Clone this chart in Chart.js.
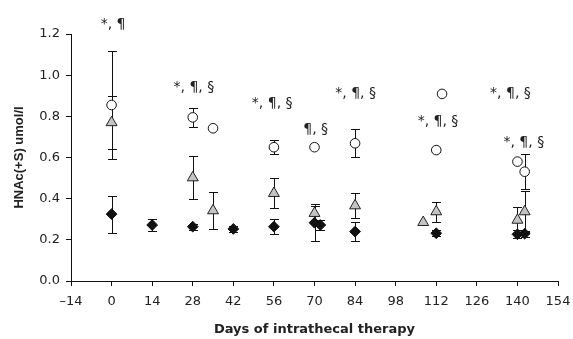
<!DOCTYPE html>
<html>
<head>
<meta charset="utf-8">
<script src="https://cdn.jsdelivr.net/npm/chart.js@4.4.1/dist/chart.umd.min.js"></script>
<style>
  html, body { margin: 0; padding: 0; background: #fff; }
  #wrap { width: 573px; height: 339px; position: relative; }
</style>
</head>
<body>
<div id="wrap"><canvas id="c"></canvas></div>
<script>
// axis ticks
const xTickValues = [-14, 0, 14, 28, 42, 56, 70, 84, 98, 112, 126, 140, 154];
const yTickValues = [0, 0.2, 0.4, 0.6, 0.8, 1.0, 1.2];

// open circles
const circleDays = [0, 28, 35, 56, 70, 84, 112, 114, 140, 142.5];
const circleVals = [0.855, 0.795, 0.742, 0.65, 0.65, 0.669, 0.636, 0.909, 0.58, 0.531];
const circleErr  = [0.26, 0.045, 0, 0.035, 0, 0.068, 0.008, 0, 0, 0.086];

// grey triangles
const triDays = [0, 28, 35, 56, 70, 84, 107.5, 112, 140, 142.5];
const triVals = [0.77, 0.502, 0.342, 0.426, 0.329, 0.366, 0.285, 0.337, 0.296, 0.337];
const triErr  = [0.13, 0.105, 0.09, 0.073, 0.035, 0.06, 0, 0.048, 0.065, 0.10];

// black diamonds
const diaDays = [0, 14, 28, 42, 56, 70, 72, 84, 112, 140, 142.5];
const diaVals = [0.325, 0.272, 0.264, 0.253, 0.264, 0.283, 0.272, 0.24, 0.232, 0.227, 0.23];
const diaErr  = [0.09, 0.03, 0.015, 0.015, 0.037, 0.09, 0.025, 0.047, 0.015, 0.02, 0.015];

// significance notes
const noteTexts = ['*, ¶', '*, ¶, §', '*, ¶, §', '¶, §', '*, ¶, §', '*, ¶, §', '*, ¶, §', '*, ¶, §'];
const noteDays  = [0.5, 28.4, 55.4, 70.4, 84.2, 112.6, 137.6, 142.2];
const noteVals  = [1.249, 0.94, 0.863, 0.739, 0.912, 0.778, 0.912, 0.673];

const INK = '#222';
const TICK_FONT = { family: 'DejaVu Sans', size: 13 };

function pts(days, vals, errs) {
  return days.map((d, i) => ({ x: d, y: vals[i], err: errs[i] }));
}

const errorBars = {
  id: 'errorBars',
  beforeDatasetsDraw(chart) {
    const { ctx, scales: { x, y } } = chart;
    ctx.save();
    ctx.strokeStyle = '#111';
    ctx.lineWidth = 1;
    chart.data.datasets.forEach(ds => {
      ds.data.forEach(p => {
        if (!p.err) return;
        const px = Math.round(x.getPixelForValue(p.x)) + 0.5;
        const top = Math.round(y.getPixelForValue(p.y + p.err)) + 0.5;
        const bot = Math.round(y.getPixelForValue(p.y - p.err)) + 0.5;
        ctx.beginPath();
        ctx.moveTo(px, top); ctx.lineTo(px, bot);
        ctx.moveTo(px - 4.5, top); ctx.lineTo(px + 4.5, top);
        ctx.moveTo(px - 4.5, bot); ctx.lineTo(px + 4.5, bot);
        ctx.stroke();
      });
    });
    ctx.restore();
  }
};

const notes = {
  id: 'notes',
  afterDatasetsDraw(chart) {
    const { ctx, scales: { x, y } } = chart;
    ctx.save();
    ctx.fillStyle = INK;
    ctx.font = '14px "DejaVu Sans"';
    ctx.textAlign = 'center';
    ctx.textBaseline = 'middle';
    noteTexts.forEach((t, i) => {
      ctx.fillText(t, x.getPixelForValue(noteDays[i]), y.getPixelForValue(noteVals[i]));
    });
    ctx.restore();
  }
};

new Chart(document.getElementById('c'), {
  type: 'scatter',
  data: {
    datasets: [
      { label: 'circles', data: pts(circleDays, circleVals, circleErr), pointStyle: 'circle', pointRadius: 4.8,
        backgroundColor: '#fff', borderColor: '#111', borderWidth: 1 },
      { label: 'triangles', data: pts(triDays, triVals, triErr), pointStyle: 'triangle', pointRadius: 6.3,
        backgroundColor: '#c4c4c4', borderColor: '#222', borderWidth: 1 },
      { label: 'diamonds', data: pts(diaDays, diaVals, diaErr), pointStyle: 'rectRot', pointRadius: 5.4,
        backgroundColor: '#111', borderColor: '#111', borderWidth: 1 }
    ]
  },
  options: {
    responsive: true,
    maintainAspectRatio: false,
    animation: false,
    devicePixelRatio: 1,
    layout: { padding: { top: 34, right: 15, left: 0, bottom: 0 } },
    plugins: { legend: { display: false }, tooltip: { enabled: false } },
    scales: {
      x: {
        type: 'linear', min: -14, max: 154,
        afterBuildTicks: s => { s.ticks = xTickValues.map(v => ({ value: v })); },
        afterFit: s => { s.height = 58; s.paddingLeft = 0; s.paddingRight = 0; },
        ticks: { color: INK, font: TICK_FONT, padding: 8, maxRotation: 0,
                 callback: v => v < 0 ? '\u2013' + (-v) : String(v) },
        grid: { drawOnChartArea: false, drawTicks: true, tickLength: 5, color: '#111' },
        border: { color: '#111', width: 1 },
        title: { display: true, text: 'Days of intrathecal therapy', color: INK,
                 font: { family: 'DejaVu Sans', size: 13, weight: 'bold' }, padding: { top: 4, bottom: 2 } }
      },
      y: {
        min: 0, max: 1.2,
        afterBuildTicks: s => { s.ticks = yTickValues.map(v => ({ value: v })); },
        afterFit: s => { s.width = 71; s.paddingTop = 0; s.paddingBottom = 0; },
        ticks: { color: INK, font: TICK_FONT, padding: 6, callback: v => v.toFixed(1) },
        grid: { drawOnChartArea: false, drawTicks: true, tickLength: 5, color: '#111' },
        border: { color: '#111', width: 1 },
        title: { display: true, text: 'HNAc(+S) umol/l', color: INK,
                 font: { family: 'Liberation Sans', size: 13, weight: 'bold' }, padding: { top: 12, bottom: 0 } }
      }
    }
  },
  plugins: [errorBars, notes]
});
</script>
</body>
</html>
